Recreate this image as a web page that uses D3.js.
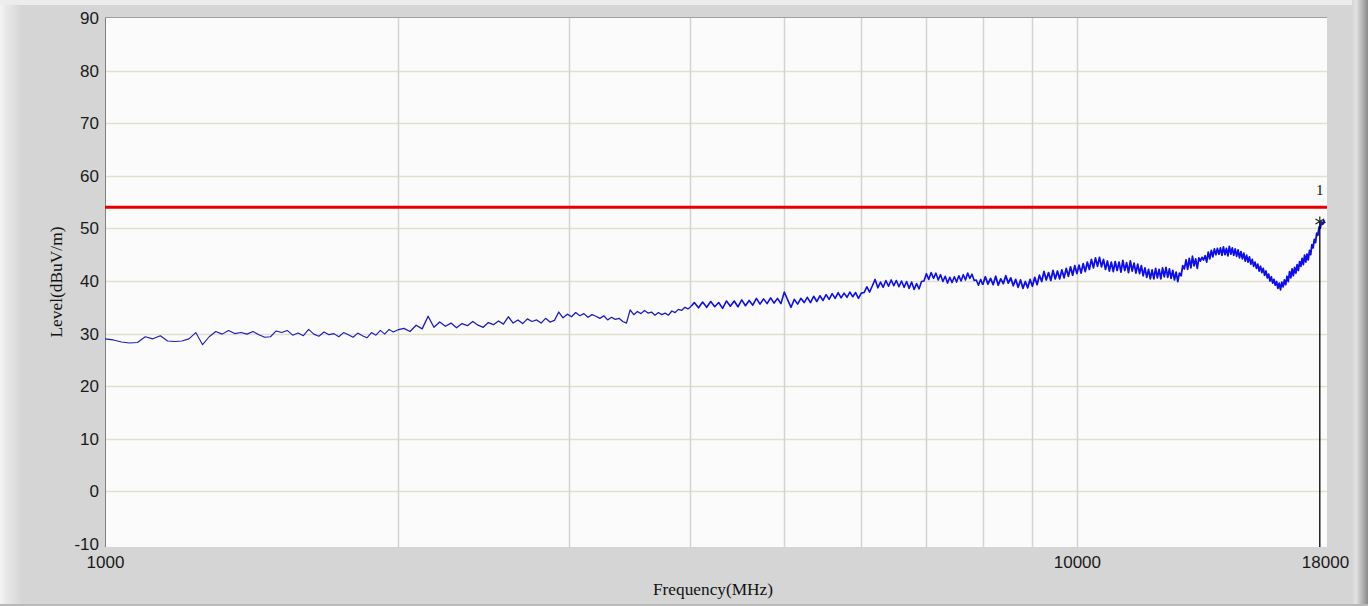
<!DOCTYPE html>
<html>
<head>
<meta charset="utf-8">
<script src="https://cdn.jsdelivr.net/npm/d3@7"></script>
<style>
  body { margin: 0; background: #d5d5d5; }
  svg { display: block; }
  .tick text { font-family: "Liberation Sans Narrow", "Liberation Sans", sans-serif; font-size: 17px; fill: #1a1a1a; }
  .title { font-family: "Liberation Serif", serif; font-size: 16px; fill: #111; }
</style>
</head>
<body>
<svg id="chart" width="1368" height="606"></svg>
<script>
// sweep segments: start frequency (MHz) and step of each block of readings
var sweepStart = [1000, 2030, 4040, 8050];
var sweepStep = [20, 30, 40, 50];

// level readings dBuV/m, one block per sweep segment
var levelA = [
  29.0, 28.8, 28.4, 28.2, 28.3, 29.4, 29.0, 29.6, 28.6, 28.5,
  28.6, 29.0, 30.2, 27.9, 29.4, 30.4, 29.9, 30.6, 30.0, 30.2,
  29.9, 30.4, 29.8, 29.3, 29.4, 30.5, 30.2, 30.6, 29.7, 30.1,
  29.6, 30.8, 29.9, 29.5, 30.3, 29.8, 30.0, 29.4, 30.2, 29.8,
  29.3, 30.1, 29.6, 29.2, 30.2, 29.7, 30.6, 29.9, 30.8, 30.3,
  30.7];
var levelB = [
  31.0, 30.4, 31.6, 30.9, 33.3, 31.2, 32.2, 31.4, 32.0, 31.1,
  31.9, 31.5, 32.3, 31.6, 31.2, 32.1, 31.7, 32.4, 31.8, 33.2,
  32.0, 32.6, 31.9, 32.8, 32.3, 32.6, 32.0, 32.9, 32.2, 32.5,
  34.1, 33.0, 33.7, 33.2, 34.0, 33.4, 33.8, 33.1, 33.6, 33.3,
  32.9, 33.4, 32.6, 33.1, 32.7, 32.9, 32.3, 32.0, 34.5, 33.6,
  34.2, 33.8, 34.4, 33.9, 34.1, 33.5, 34.0, 33.6, 33.9, 33.5,
  34.3, 34.0, 34.6, 34.4, 35.0, 34.7, 35.2];
var levelC = [
  35.9, 34.9, 36.0, 35.0, 36.1, 35.1, 35.9, 34.8, 36.2, 35.2,
  36.2, 35.1, 36.4, 35.3, 36.3, 35.4, 36.7, 35.6, 36.6, 35.7,
  36.8, 35.8, 36.7, 35.7, 37.9, 36.4, 35.0, 36.5, 35.6, 36.7,
  35.9, 36.9, 35.9, 37.1, 36.1, 37.2, 36.3, 37.4, 36.5, 37.6,
  36.7, 37.8, 36.8, 37.7, 36.9, 37.9, 37.0, 37.8, 36.7, 37.7,
  37.8, 38.9, 37.9, 39.1, 40.3, 38.7, 39.8, 38.8, 40.1, 39.0,
  40.2, 39.1, 40.1, 38.9, 40.0, 38.8, 39.9, 38.6, 39.8, 38.4,
  39.5, 38.5, 39.9, 40.0, 41.4, 40.3, 41.6, 40.5, 41.5, 40.2,
  41.2, 39.9, 40.9, 39.6, 40.7, 39.7, 40.8, 39.8, 41.0, 40.0,
  41.2, 40.2, 41.5, 40.5, 41.3, 40.1, 40.2, 39.2, 40.3, 39.3];
var levelD = [
  40.8, 39.4, 40.5, 39.3, 40.9, 39.2, 40.4, 39.5, 41.0, 39.6,
  40.6, 39.1, 40.3, 38.8, 40.2, 38.6, 39.9, 38.7, 40.3, 39.0,
  40.7, 39.3, 41.1, 39.9, 41.8, 40.2, 41.6, 40.1, 42.0, 40.4,
  41.9, 40.4, 42.1, 40.6, 42.4, 40.9, 42.7, 41.1, 42.9, 41.4,
  43.0, 41.5, 43.3, 41.8, 43.6, 42.2, 44.1, 42.5, 44.4, 42.8,
  44.5, 42.7, 44.1, 42.2, 43.8, 41.9, 43.6, 41.8, 43.7, 42.0,
  43.6, 41.7, 43.9, 42.0, 43.5, 41.6, 43.8, 41.9, 43.4, 41.5,
  43.2, 41.4, 42.9, 41.0, 42.5, 40.7, 42.2, 40.4, 42.1, 40.4,
  42.4, 40.6, 42.2, 40.4, 42.5, 40.8, 42.6, 40.7, 42.3, 40.5,
  42.0, 40.2, 41.7, 39.9, 41.5, 41.0, 42.9, 42.3, 44.0, 42.2,
  44.3, 42.5, 44.7, 42.9, 44.2, 42.4, 44.4, 43.8, 44.5, 44.0,
  44.8, 43.6, 45.5, 44.2, 45.8, 44.6, 46.1, 45.0, 46.2, 45.1,
  46.3, 44.9, 46.5, 45.0, 46.2, 44.8, 46.6, 45.1, 46.3, 44.9,
  46.1, 44.7, 45.9, 44.4, 45.6, 44.2, 45.3, 43.8, 44.9, 43.6,
  44.6, 43.2, 44.1, 42.8, 43.6, 42.4, 43.2, 41.9, 42.8, 41.6,
  42.4, 41.1, 41.9, 40.6, 41.3, 40.0, 40.8, 39.6, 40.3, 39.2,
  39.9, 38.6, 39.6, 38.3, 39.8, 38.9, 40.2, 39.3, 40.9, 39.9,
  41.8, 40.6, 42.3, 41.0, 42.6, 41.5, 43.1, 42.0, 43.7, 42.8,
  44.3, 43.1, 44.9, 43.6, 45.1, 44.0, 45.8, 45.0, 46.9, 46.3,
  47.9, 47.3, 49.1, 48.7, 50.3, 50.0, 51.2, 50.8, 51.5, 51.0];

var limitLevel = [54];
var marker = [{ label: "1", freq: 17780, level: 51.3 }];

var xTicks = [1000, 10000, 18000];
var xGrid = [2000, 3000, 4000, 5000, 6000, 7000, 8000, 9000, 10000];
var yTicks = [-10, 0, 10, 20, 30, 40, 50, 60, 70, 80, 90];
var yGrid = [0, 10, 20, 30, 40, 50, 60, 70, 80];

var W = 1368, H = 606;
var plot = { left: 105, right: 1327, top: 17, bottom: 547 };
// denser sweep blocks look heavier on screen
var traceWidth = [1.1, 1.3, 1.6, 1.8];

var svg = d3.select("#chart");
var defs = svg.append("defs");

var gl = defs.append("linearGradient").attr("id", "leftEdge");
gl.append("stop").attr("offset", "0%").attr("stop-color", "#f4f4f4");
gl.append("stop").attr("offset", "35%").attr("stop-color", "#e6e6e6");
gl.append("stop").attr("offset", "100%").attr("stop-color", "#d5d5d5");

var gr = defs.append("linearGradient").attr("id", "rightEdge");
gr.append("stop").attr("offset", "0%").attr("stop-color", "#d5d5d5");
gr.append("stop").attr("offset", "25%").attr("stop-color", "#e2e2e2");
gr.append("stop").attr("offset", "100%").attr("stop-color", "#8a8a8a");

// window frame
svg.append("rect").attr("width", W).attr("height", H).attr("fill", "#d5d5d5");
svg.append("rect").attr("width", 22).attr("height", H).attr("fill", "url(#leftEdge)");
svg.append("rect").attr("x", 1352).attr("width", 16).attr("height", H).attr("fill", "url(#rightEdge)");
svg.append("rect").attr("width", 1352).attr("height", 5).attr("fill", "#ececec");
svg.append("rect").attr("y", H - 2).attr("width", W).attr("height", 2).attr("fill", "#b8b8b8");

var x = d3.scaleLog().domain([1000, 18000]).range([105, 1325]);
var y = d3.scaleLinear().domain([-10, 90]).range([544, 18]);

// plot area
svg.append("rect")
  .attr("x", plot.left).attr("y", plot.top)
  .attr("width", plot.right - plot.left).attr("height", plot.bottom - plot.top)
  .attr("fill", "#fbfbfb");

svg.append("g").selectAll("line").data(yGrid).enter().append("line")
  .attr("x1", plot.left).attr("x2", plot.right)
  .attr("y1", function(d) { return Math.round(y(d)) + 0.5; })
  .attr("y2", function(d) { return Math.round(y(d)) + 0.5; })
  .attr("stroke", "#e2dfcc").attr("stroke-width", 1.5);

svg.append("g").selectAll("line").data(xGrid).enter().append("line")
  .attr("x1", function(d) { return Math.round(x(d)) + 0.5; })
  .attr("x2", function(d) { return Math.round(x(d)) + 0.5; })
  .attr("y1", plot.top).attr("y2", plot.bottom)
  .attr("stroke", "#d3d3d0").attr("stroke-width", 1.5);

// borders
svg.append("line").attr("x1", plot.left + 0.5).attr("x2", plot.left + 0.5)
  .attr("y1", plot.top).attr("y2", plot.bottom).attr("stroke", "#808080");
svg.append("line").attr("x1", plot.left).attr("x2", plot.right)
  .attr("y1", plot.top + 0.5).attr("y2", plot.top + 0.5).attr("stroke", "#a0a0a0");

// axes (labels only)
var xAxis = svg.append("g")
  .attr("transform", "translate(0," + plot.bottom + ")")
  .call(d3.axisBottom(x).tickValues(xTicks).tickSize(0).tickPadding(9)
    .tickFormat(function(d) { return String(d); }));
xAxis.select(".domain").remove();

var yAxis = svg.append("g")
  .attr("transform", "translate(" + plot.left + ",0)")
  .call(d3.axisLeft(y).tickValues(yTicks).tickSize(0).tickPadding(6)
    .tickFormat(function(d) { return String(d); }));
yAxis.select(".domain").remove();

svg.append("text").attr("class", "title")
  .attr("transform", "translate(62,282) rotate(-90)")
  .attr("text-anchor", "middle")
  .attr("textLength", 111).attr("lengthAdjust", "spacingAndGlyphs")
  .text("Level(dBuV/m)");

svg.append("text").attr("class", "title")
  .attr("x", 713).attr("y", 595)
  .attr("text-anchor", "middle")
  .attr("textLength", 120).attr("lengthAdjust", "spacingAndGlyphs")
  .text("Frequency(MHz)");

// limit line
svg.append("g").selectAll("line").data(limitLevel).enter().append("line")
  .attr("x1", plot.left).attr("x2", plot.right)
  .attr("y1", function(d) { return y(d); })
  .attr("y2", function(d) { return y(d); })
  .attr("stroke", "#e60000").attr("stroke-width", 3);

// trace, one path per sweep block, each starting at the previous block's last reading
var blocks = [levelA, levelB, levelC, levelD].map(function(arr, k) {
  return arr.map(function(v, i) { return { f: sweepStart[k] + i * sweepStep[k], v: v }; });
});
for (var k = blocks.length - 1; k > 0; k--) {
  blocks[k].unshift(blocks[k - 1][blocks[k - 1].length - 1]);
}

var line = d3.line()
  .x(function(d) { return x(d.f); })
  .y(function(d) { return y(d.v); });

svg.append("g").selectAll("path").data(blocks).enter().append("path")
  .attr("d", line)
  .attr("fill", "none")
  .attr("stroke", function(d, k) { return k < 2 ? "#1c1cc0" : "#0d0df0"; })
  .attr("stroke-width", function(d, k) { return traceWidth[k]; })
  .attr("stroke-linejoin", "round");

// marker
var mk = svg.append("g").selectAll("g").data(marker).enter().append("g");
mk.append("line")
  .attr("x1", function(d) { return x(d.freq); })
  .attr("x2", function(d) { return x(d.freq); })
  .attr("y1", function(d) { return y(d.level); })
  .attr("y2", plot.bottom)
  .attr("stroke", "#000").attr("stroke-width", 1.3);
mk.append("path")
  .attr("transform", function(d) { return "translate(" + x(d.freq) + "," + y(d.level) + ")"; })
  .attr("d", d3.symbol().type(d3.symbolAsterisk || d3.symbolCross).size(70))
  .attr("fill", "none").attr("stroke", "#222").attr("stroke-width", 1.2);
mk.append("text").attr("class", "title")
  .attr("x", function(d) { return x(d.freq); })
  .attr("y", function(d) { return y(d.level) - 27; })
  .attr("text-anchor", "middle")
  .style("font-size", "15px")
  .text(function(d) { return d.label; });
</script>
</body>
</html>
